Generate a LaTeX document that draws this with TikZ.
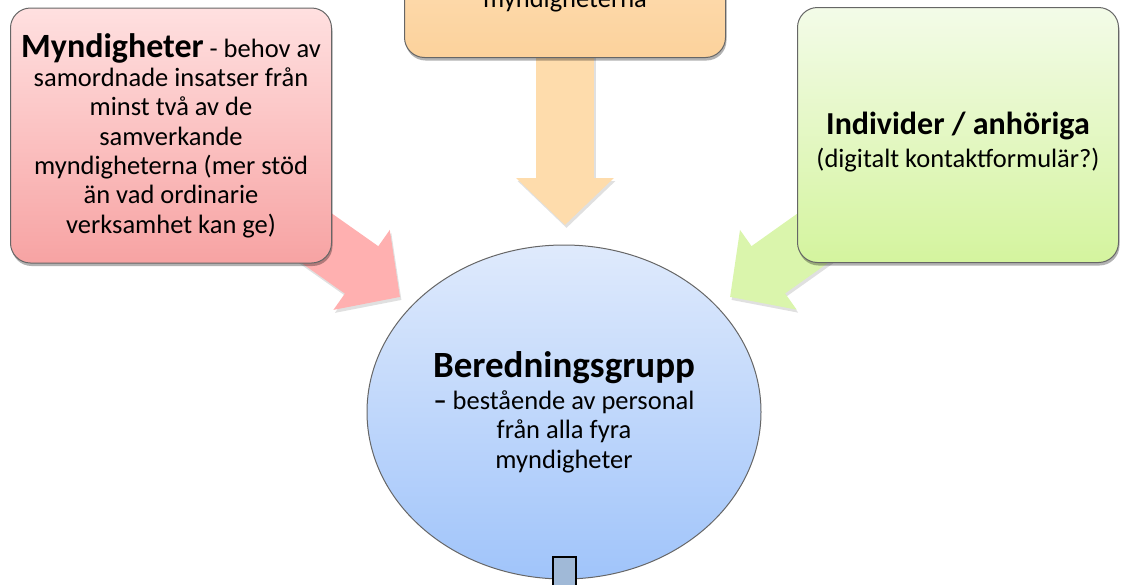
\documentclass[tikz,border=0pt]{standalone}
\usepackage{fontspec}
\setmainfont{Carlito}
\usetikzlibrary{shapes.geometric,arrows.meta,shadows}
\definecolor{rb_top}{RGB}{255, 224, 224}
\definecolor{rb_bot}{RGB}{247, 163, 163}
\definecolor{ob_top}{RGB}{255, 236, 210}
\definecolor{ob_bot}{RGB}{252, 210, 156}
\definecolor{gb_top}{RGB}{243, 251, 232}
\definecolor{gb_bot}{RGB}{212, 244, 158}
\definecolor{be_top}{RGB}{223, 234, 252}
\definecolor{be_bot}{RGB}{160, 196, 250}
\definecolor{ar_red}{RGB}{255, 176, 176}
\definecolor{ar_orange}{RGB}{254, 220, 172}
\definecolor{ar_green}{RGB}{218, 245, 172}
\definecolor{ut_blue}{RGB}{160, 185, 215}
\pgfdeclarelayer{bg}
\pgfsetlayers{bg,main}
\tikzstyle{box}=[rectangle,rounded corners=20pt,draw=black!60,line width=1pt,
  inner sep=0pt,minimum width=321pt,minimum height=255pt,align=center,
  font=\fontsize{26.5}{29.3}\selectfont,
  drop shadow={shadow xshift=1pt,shadow yshift=-3pt,fill=black,opacity=0.3}]
\tikzstyle{rbox}=[box,top color=rb_top,bottom color=rb_bot]
\tikzstyle{obox}=[box,top color=ob_top,bottom color=ob_bot]
\tikzstyle{gbox}=[box,top color=gb_top,bottom color=gb_bot]
\tikzstyle{bell}=[ellipse,draw=black!60,line width=1pt,inner sep=0pt,
  minimum width=394pt,minimum height=334pt,align=center,
  top color=be_top,bottom color=be_bot,font=\fontsize{26.5}{29.3}\selectfont]
\tikzstyle{flow}=[line width=58pt,-{Triangle[length=47pt,width=95pt]}]
\tikzstyle{flowshade}=[flow,draw=black,opacity=0.12,
  transform canvas={shift={(1.5pt,-3pt)}}]
\tikzstyle{ubox}=[rectangle,draw=black,line width=2pt,fill=ut_blue,
  inner sep=0pt,minimum width=23pt,minimum height=52pt]

\begin{document}
\begin{tikzpicture}[x=1pt,y=-1pt]
    \useasboundingbox (0,0) rectangle (1124,584);
    \clip (0,0) rectangle (1124,584);
    % boxes
    \node [style=obox] (samv) at (565,-70) {};
    \node [anchor=base,font=\fontsize{26.5}{29.3}\selectfont] (samvtxt) at (565,7) {myndigheterna};
    \node [style=rbox] (mynd) at (171,135.5) {{\fontsize{34}{36}\selectfont\bfseries Myndigheter} - behov av\\
      samordnade insatser från\\minst två av de\\samverkande\\
      myndigheterna (mer stöd\\än vad ordinarie\\verksamhet kan ge)};
    \node [style=gbox] (indiv) at (958,135) {\rule{0pt}{36pt}{\fontsize{32}{34}\selectfont\bfseries Individer / anhöriga}\\[4pt]
      (digitalt kontaktformulär?)};
    \node [style=bell] (bered) at (564,412) {{\fontsize{37}{40}\selectfont\bfseries Beredningsgrupp}\\[3pt]
      \textbf{–} bestående av personal\\från alla fyra\\myndigheter};
    \node [style=ubox] (utf) at (564.5,583) {};
    % arrow tips
    \coordinate (tipT) at (565,225);
    \coordinate (tipL) at (400,297);
    \coordinate (tipR) at (730,297);
    \begin{pgfonlayer}{bg}
    \draw [style=flowshade] (samv.center) -- (tipT);
    \draw [style=flowshade] (mynd.center) -- (tipL);
    \draw [style=flowshade] (indiv.center) -- (tipR);
    \draw [style=flow,draw=ar_orange] (samv.center) -- (tipT);
    \draw [style=flow,draw=ar_red] (mynd.center) -- (tipL);
    \draw [style=flow,draw=ar_green] (indiv.center) -- (tipR);
    \end{pgfonlayer}
\end{tikzpicture}
\end{document}
